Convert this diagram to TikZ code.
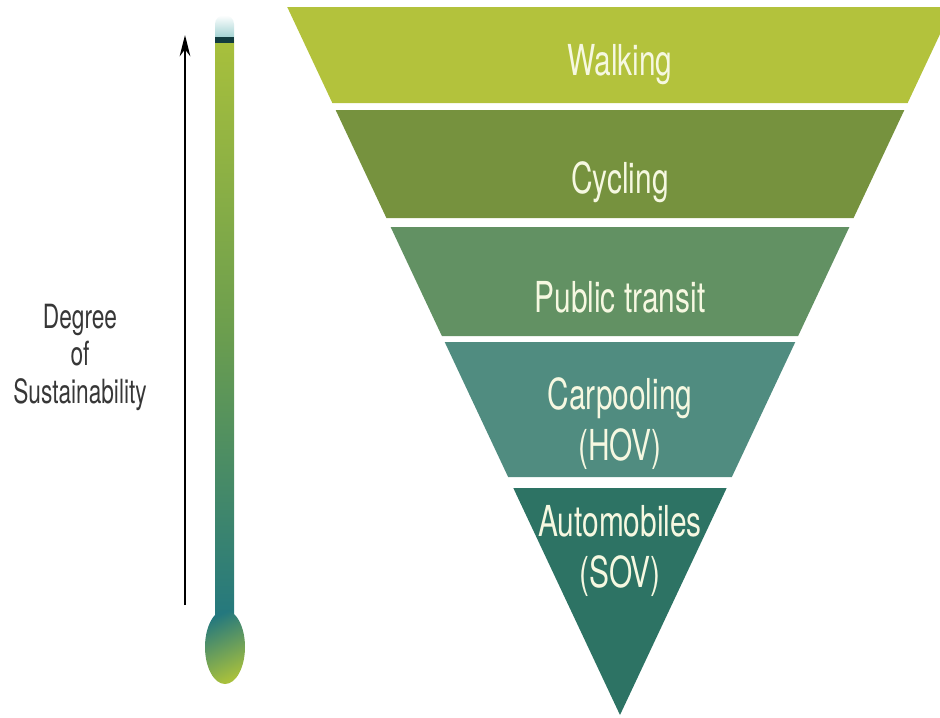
\documentclass[tikz,border=0pt]{standalone}
\usepackage{fontspec}
\usepackage{tikz}
\usepackage{xcolor}
\usetikzlibrary{arrows.meta, positioning, calc}
\newfontfamily\condfont[FakeStretch=0.7]{TeX Gyre Heros}
\newfontfamily\sidefont[FakeStretch=0.68]{TeX Gyre Heros}
\definecolor{walkGreen}{RGB}{179,194,60}
\definecolor{cycleGreen}{RGB}{118,146,62}
\definecolor{transitGreen}{RGB}{98,145,99}
\definecolor{carpoolTeal}{RGB}{80,140,128}
\definecolor{autoTeal}{RGB}{45,115,100}
\definecolor{labelCream}{RGB}{246,248,225}
\definecolor{labelGray}{RGB}{55,55,55}
\definecolor{thermoTop}{RGB}{168,192,60}
\definecolor{thermoMid}{RGB}{108,158,78}
\definecolor{thermoTeal}{RGB}{36,120,126}

\begin{document}
\begin{tikzpicture}[
        x=0.75pt, y=-0.75pt,
        bandlabel/.style={text=labelCream, font=\condfont\fontsize{32}{38}\selectfont, align=center, anchor=base, inner sep=0pt},
        sidelabel/.style={text=labelGray, font=\sidefont\fontsize{25}{28}\selectfont, align=center, anchor=base, inner sep=0pt},
        arrow/.style={-{Stealth[length=16pt, width=8pt]}, line width=1.5pt, black}
    ]
        \useasboundingbox (0,0) rectangle (940,718);
        \clip (0,0) rectangle (940,718);

        % funnel bands
        \foreach \top/\bot/\col in {7/103/walkGreen, 110/218/cycleGreen, 227/336/transitGreen, 342/477/carpoolTeal, 488/715/autoTeal}{
            \pgfmathsetmacro\htop{0.47*(715-\top)}
            \pgfmathsetmacro\hbot{0.47*(715-\bot)}
            \fill[\col] (620-\htop,\top) -- (620+\htop,\top) -- (620+\hbot,\bot) -- (620-\hbot,\bot) -- cycle;
        }

        % band labels (base = last line)
        \node[bandlabel] (walk) at (620,75) {Walking};
        \node[bandlabel] (cycle) at (620,193) {Cycling};
        \node[bandlabel] (transit) at (620,312) {Public transit};
        \node[bandlabel] (carpool) at (620,460) {Carpooling\\(HOV)};
        \node[bandlabel] (auto) at (620,587) {Automobiles\\(SOV)};

        % thermometer
        \shade[top color=thermoTop, bottom color=thermoTeal, middle color=thermoMid] (215,40) rectangle (234,620);
        \shade[top color=white, bottom color=cyan!35!gray!60] (215,40) -- (215,24) arc[start angle=180, end angle=0, x radius=9.5, y radius=-9] -- (234,40) -- cycle;
        \fill[thermoTeal!50!black] (215,37) rectangle (234,43);
        \shade[top color=thermoTeal, middle color=thermoTeal, bottom color=thermoTop, shading angle=25] (225,647) ellipse[x radius=20, y radius=37];

        % sustainability arrow
        \coordinate (arrowBase) at (185,605);
        \coordinate (arrowTip) at (185,35);
        \draw[arrow] (arrowBase) -- (arrowTip);

        \node[sidelabel] (sustain) at (80,403) {Degree\\of\\Sustainability};
    \end{tikzpicture}
\end{document}
